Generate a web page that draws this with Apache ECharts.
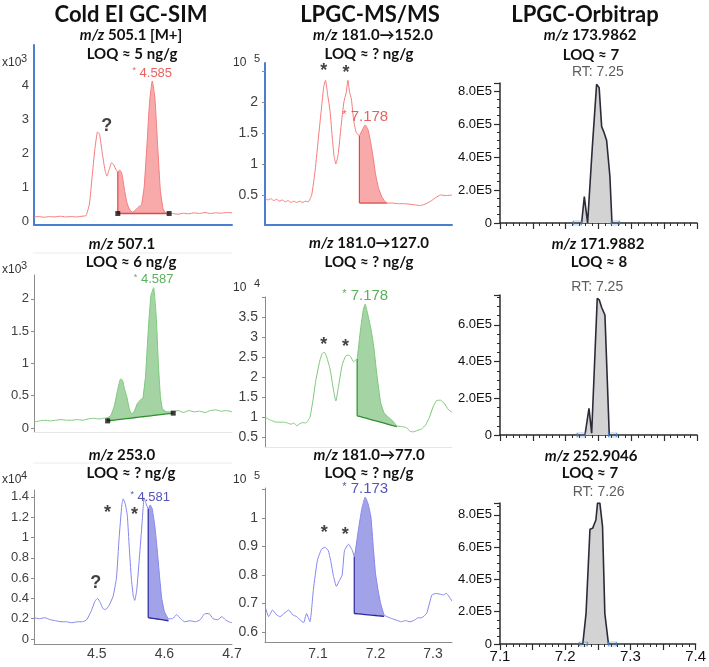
<!DOCTYPE html>
<html><head><meta charset="utf-8">
<script src="https://cdn.jsdelivr.net/npm/echarts@6/dist/echarts.min.js"></script>
<style>html,body{margin:0;padding:0;background:#fff}#c{width:709px;height:667px}</style>
</head><body><div id="c"></div>
<script>
// ================= DATA =================
// Cold EI GC-SIM, m/z 505.1 (x10^3)
const gcSim505Time = [4.407,4.415,4.422,4.430,4.438,4.446,4.454,4.462,4.470,4.478,4.484,4.489,4.493,4.497,4.501,4.504,4.508,4.512,4.515,4.518,4.522,4.525,4.529,4.531,4.534,4.537,4.541,4.545,4.549,4.553,4.557,4.562,4.566,4.570,4.574,4.578,4.582,4.586,4.590,4.594,4.598,4.602,4.607,4.612,4.620,4.628,4.636,4.644,4.652,4.660,4.668,4.676,4.684,4.692,4.700];
const gcSim505Int  = [0.12,0.13,0.11,0.13,0.12,0.14,0.12,0.13,0.12,0.14,0.16,0.5,1.3,2.1,2.62,2.55,2.0,1.5,1.32,1.5,1.72,1.65,1.48,1.45,1.5,1.4,0.9,0.5,0.32,0.26,0.32,0.42,0.48,1.0,2.2,3.5,4.12,3.6,2.2,0.9,0.35,0.24,0.22,0.22,0.2,0.23,0.21,0.24,0.22,0.25,0.22,0.24,0.23,0.25,0.24];
const gcSim505Fill = [4.531, 4.607, 0.22, 0.22];       // start, end, base at start, base at end
const gcSim505Peak = [4.582, 4.12, '4.585'];
const gcSim505Notes = [[4.5147, 2.88, '?']];

// Cold EI GC-SIM, m/z 507.1 (x10^3)
const gcSim507Time = [4.407,4.415,4.423,4.431,4.439,4.447,4.455,4.463,4.471,4.479,4.487,4.495,4.503,4.510,4.516,4.521,4.526,4.531,4.535,4.538,4.541,4.544,4.548,4.551,4.555,4.560,4.565,4.568,4.572,4.576,4.580,4.584,4.588,4.591,4.594,4.597,4.603,4.608,4.613,4.620,4.628,4.636,4.644,4.652,4.660,4.668,4.676,4.684,4.692,4.700];
const gcSim507Int  = [0.09,0.11,0.12,0.11,0.12,0.13,0.12,0.12,0.13,0.12,0.14,0.15,0.14,0.15,0.16,0.2,0.35,0.6,0.76,0.74,0.6,0.5,0.3,0.22,0.25,0.38,0.44,0.46,0.8,1.5,2.05,2.17,1.7,1.0,0.5,0.3,0.25,0.25,0.25,0.27,0.24,0.27,0.25,0.26,0.24,0.27,0.28,0.26,0.27,0.25];
const gcSim507Fill = [4.516, 4.613, 0.11, 0.23];
const gcSim507Peak = [4.584, 2.17, '4.587'];
const gcSim507Notes = [];

// Cold EI GC-SIM, m/z 253.0 (x10^4)
const gcSim253Time = [4.407,4.415,4.423,4.431,4.439,4.447,4.455,4.463,4.471,4.479,4.485,4.492,4.497,4.501,4.505,4.509,4.513,4.518,4.524,4.529,4.533,4.537,4.539,4.542,4.545,4.548,4.551,4.554,4.556,4.559,4.563,4.567,4.570,4.573,4.576,4.579,4.582,4.586,4.589,4.593,4.596,4.600,4.606,4.612,4.618,4.624,4.630,4.638,4.646,4.653,4.660,4.666,4.672,4.679,4.685,4.690,4.695,4.700];
const gcSim253Int  = [0.21,0.2,0.21,0.19,0.18,0.17,0.17,0.16,0.17,0.17,0.19,0.28,0.37,0.40,0.36,0.30,0.29,0.33,0.42,0.6,1.0,1.32,1.38,1.33,1.22,0.9,0.6,0.42,0.38,0.48,0.8,1.15,1.39,1.33,1.28,1.32,1.28,1.1,0.9,0.6,0.4,0.27,0.2,0.2,0.24,0.2,0.17,0.18,0.17,0.19,0.25,0.25,0.2,0.19,0.22,0.19,0.17,0.16];
const gcSim253Fill = [4.576, 4.606, 0.21, 0.18];
const gcSim253Peak = [4.579, 1.32, '4.581'];
const gcSim253Notes = [[4.4985, 0.58, '?'], [4.5157, 1.27, '*'], [4.5559, 1.25, '*']];
const gcSimXTicks = [4.5, 4.6, 4.7];

// LPGC-MS/MS 181.0->152.0 (x10^5)
const msms152Time = [7.008,7.013,7.018,7.023,7.028,7.033,7.038,7.043,7.048,7.053,7.058,7.063,7.068,7.073,7.078,7.083,7.089,7.095,7.101,7.106,7.110,7.113,7.117,7.121,7.125,7.128,7.131,7.135,7.140,7.145,7.149,7.152,7.155,7.158,7.162,7.166,7.170,7.172,7.177,7.182,7.187,7.191,7.196,7.200,7.205,7.211,7.216,7.220,7.230,7.240,7.250,7.260,7.270,7.278,7.288,7.296,7.305,7.313,7.323,7.333];
const msms152Int  = [0.45,0.42,0.44,0.41,0.43,0.40,0.42,0.39,0.41,0.38,0.40,0.38,0.40,0.38,0.40,0.39,0.5,0.9,1.45,1.9,2.25,2.35,2.1,1.85,1.4,1.12,1.0,1.15,1.6,2.0,2.15,2.35,2.15,2.05,1.7,1.52,1.47,1.46,1.55,1.63,1.55,1.38,1.1,0.84,0.62,0.47,0.40,0.37,0.37,0.36,0.36,0.35,0.34,0.33,0.36,0.40,0.46,0.5,0.49,0.5];
const msms152Fill = [7.172, 7.220, 0.37, 0.37];
const msms152Peak = [7.182, 1.63, '7.178'];
const msms152Notes = [[7.110, 2.55, '*'], [7.1487, 2.52, '*']];

// LPGC-MS/MS 181.0->127.0 (x10^4)
const msms127Time = [7.008,7.013,7.018,7.025,7.032,7.040,7.047,7.053,7.058,7.063,7.068,7.073,7.079,7.086,7.091,7.096,7.103,7.107,7.111,7.115,7.121,7.126,7.131,7.136,7.142,7.148,7.153,7.157,7.162,7.165,7.168,7.174,7.179,7.182,7.186,7.192,7.197,7.202,7.209,7.215,7.222,7.230,7.237,7.245,7.250,7.255,7.260,7.266,7.272,7.280,7.287,7.294,7.300,7.306,7.313,7.320,7.327,7.333];
const msms127Int  = [1.0,0.95,0.92,0.88,0.87,0.87,0.85,0.82,0.85,0.78,0.83,0.86,0.85,1.0,1.4,1.9,2.4,2.58,2.62,2.5,2.2,1.75,1.4,1.8,2.3,2.52,2.55,2.5,2.38,2.42,2.45,3.2,3.7,3.82,3.6,3.2,2.75,2.1,1.35,1.1,1.0,0.9,0.78,0.76,0.75,0.72,0.64,0.63,0.66,0.7,0.8,1.0,1.25,1.41,1.42,1.33,1.18,1.12];
const msms127Fill = [7.168, 7.237, 1.03, 0.76];
const msms127Peak = [7.182, 3.82, '7.178'];
const msms127Notes = [[7.110, 2.88, '*'], [7.148, 2.83, '*']];

// LPGC-MS/MS 181.0->77.0 (x10^5)
const msms77Time = [7.009,7.014,7.021,7.028,7.034,7.041,7.049,7.056,7.063,7.070,7.075,7.080,7.086,7.092,7.099,7.106,7.112,7.118,7.122,7.127,7.132,7.137,7.142,7.146,7.153,7.160,7.163,7.170,7.176,7.182,7.187,7.192,7.196,7.200,7.205,7.209,7.215,7.222,7.230,7.238,7.245,7.252,7.260,7.268,7.274,7.280,7.289,7.298,7.305,7.312,7.318,7.323,7.333];
const msms77Int  = [0.683,0.654,0.677,0.66,0.654,0.665,0.677,0.66,0.654,0.64,0.633,0.665,0.636,0.75,0.852,0.89,0.897,0.885,0.85,0.795,0.76,0.78,0.80,0.885,0.908,0.885,0.864,0.956,1.03,1.073,1.05,1.003,0.9,0.805,0.74,0.7,0.66,0.652,0.646,0.64,0.636,0.64,0.636,0.642,0.65,0.65,0.666,0.73,0.735,0.733,0.73,0.736,0.708];
const msms77Fill = [7.163, 7.215, 0.665, 0.655];
const msms77Peak = [7.182, 1.073, '7.173'];
const msms77Notes = [[7.111, 0.958, '*'], [7.1475, 0.952, '*']];
const msmsXTicks = [7.1, 7.2, 7.3];

// LPGC-Orbitrap (units of 1E5)
const orbi174Time = [7.2243,7.2284,7.2334,7.2360,7.2406,7.2471,7.2490,7.2510,7.2548,7.2583,7.2624,7.2674,7.2705];
const orbi174Int  = [0,1.6,0,0,4.6,8.4,8.45,8.2,5.84,5.5,5.0,2.8,0];
const orbi174Marks = [7.2177, 7.2756];
const orbi174Peak = [7.2490, 8.45, 'RT: 7.25'];

const orbi172Time = [7.2294,7.2355,7.2396,7.2410,7.2481,7.2512,7.2547,7.2598,7.2608,7.2664];
const orbi172Int  = [0,1.45,0.1,0,7.45,7.36,6.96,6.54,6.45,0];
const orbi172Marks = [7.2238, 7.2715];
const orbi172Peak = [7.2481, 7.45, 'RT: 7.25'];

const orbi253Time = [7.2270,7.2320,7.2380,7.2420,7.2471,7.2496,7.2532,7.2573,7.2608,7.2664];
const orbi253Int  = [0,1.9,7.1,7.16,7.68,8.72,8.72,7.27,1.9,0];
const orbi253Marks = [7.2279, 7.2725];
const orbi253Peak = [7.2514, 8.72, 'RT: 7.26'];

// ================= STYLE / LAYOUT =================
const FONT = '"Liberation Sans", Arial, sans-serif';
const TFONT = 'Lato, "Open Sans", sans-serif';
const RED = {line:'#f47b7b', fill:'rgba(242,100,100,0.55)', edge:'#e04848', label:'#e53935'};
const GREEN = {line:'#7cc87c', fill:'rgba(90,175,90,0.55)', edge:'#2f8f2f', label:'#2f9e2f'};
const BLUE = {line:'#8585ee', fill:'rgba(85,85,215,0.55)', edge:'#2a2aa0', label:'#2a2aa8'};

const blueLine = {show:true, onZero:false, lineStyle:{color:'#4a7fd0', width:2}};
const grayLine = {show:true, onZero:false, lineStyle:{color:'#8c8c8c', width:1}};
const faintLine = {show:true, onZero:false, lineStyle:{color:'#e6e6e6', width:1}};
const fmt = v => String(parseFloat(v.toFixed(2)));

function yAx(line, labels, ticks, fontSize, margin) {
  return {axisLine: line, splitLine:{show:false},
    axisTick: ticks ? {show:true, customValues: ticks, length:3, lineStyle:{color:'#8c8c8c'}} : {show:false},
    axisLabel: {customValues: labels, formatter: fmt, fontSize, color:'#404040', fontFamily: FONT, margin}};
}
function xAx(line, labels, margin) {
  return {axisLine: line, splitLine:{show:false}, axisTick:{show:false},
    axisLabel: labels ? {customValues: labels, formatter: fmt, fontSize:14, color:'#404040', fontFamily: FONT, margin} : {show:false}};
}

const trace = [
  {grid:{left:34,top:45,width:198,height:180}, x:[4.407,4.70], y:[-0.118,5.18], t:gcSim505Time, v:gcSim505Int, fill:gcSim505Fill, peak:gcSim505Peak, notes:gcSim505Notes, c:RED, squares:true, pfs:13,
   yA:yAx(blueLine,[0,1,2,3,4],null,13,5), xA:xAx(blueLine,null)},
  {grid:{left:34,top:275,width:198,height:157}, x:[4.407,4.70], y:[-0.062,2.368], t:gcSim507Time, v:gcSim507Int, fill:gcSim507Fill, peak:gcSim507Peak, notes:gcSim507Notes, c:GREEN, squares:true, pfs:13,
   yA:yAx(grayLine,[0,0.5,1,1.5,2],[0,0.5,1,1.5,2],13,5), xA:xAx(faintLine,null)},
  {grid:{left:34,top:490,width:198,height:154}, x:[4.407,4.70], y:[-0.049,1.467], t:gcSim253Time, v:gcSim253Int, fill:gcSim253Fill, peak:gcSim253Peak, notes:gcSim253Notes, c:BLUE, squares:false, pfs:13,
   yA:yAx(grayLine,[0,0.2,0.4,0.6,0.8,1,1.2,1.4],[0,0.2,0.4,0.6,0.8,1,1.2,1.4],13,5), xA:xAx(grayLine,gcSimXTicks,3)},
  {grid:{left:265,top:63,width:187,height:162}, x:[7.0078,7.333], y:[0.016,2.629], t:msms152Time, v:msms152Int, fill:msms152Fill, peak:msms152Peak, notes:msms152Notes, c:RED, squares:false, pfs:15,
   yA:yAx(blueLine,[0.5,1,1.5,2],[0.5,1,1.5,2,2.5],14,7), xA:xAx(blueLine,null)},
  {grid:{left:265,top:297,width:187,height:150}, x:[7.0078,7.333], y:[0.25,4.0], t:msms127Time, v:msms127Int, fill:msms127Fill, peak:msms127Peak, notes:msms127Notes, c:GREEN, squares:false, pfs:15,
   yA:yAx(grayLine,[0.5,1,1.5,2,2.5,3,3.5],[0.5,1,1.5,2,2.5,3,3.5,4],14,7), xA:xAx(faintLine,null)},
  {grid:{left:265,top:488,width:187,height:154}, x:[7.0078,7.333], y:[0.565,1.105], t:msms77Time, v:msms77Int, fill:msms77Fill, peak:msms77Peak, notes:msms77Notes, c:BLUE, squares:false, pfs:15,
   yA:yAx(grayLine,[0.6,0.7,0.8,0.9,1],[0.6,0.7,0.8,0.9,1,1.1],14,7), xA:xAx(grayLine,msmsXTicks,5)}
];

const orbi = [
  {grid:{left:500,top:83,width:197,height:140}, ymax:8.48, t:orbi174Time, v:orbi174Int, marks:orbi174Marks, peak:orbi174Peak, xlabels:false},
  {grid:{left:500,top:295,width:197,height:140}, ymax:7.63, t:orbi172Time, v:orbi172Int, marks:orbi172Marks, peak:orbi172Peak, xlabels:false},
  {grid:{left:500,top:503,width:197,height:141}, ymax:8.73, t:orbi253Time, v:orbi253Int, marks:orbi253Marks, peak:orbi253Peak, xlabels:true}
];

function interp(ts, vs, x) {
  for (let i = 0; i < ts.length - 1; i++) {
    if (x >= ts[i] && x <= ts[i+1]) { const f = (x - ts[i]) / (ts[i+1] - ts[i]); return vs[i] + f * (vs[i+1] - vs[i]); }
  }
  return vs[vs.length - 1];
}
const zip = (a, b) => a.map((x, i) => [x, b[i]]);

const option = {animation:false, grid:[], xAxis:[], yAxis:[], series:[], graphic:[]};

trace.forEach((p, i) => {
  option.grid.push(p.grid);
  option.xAxis.push(Object.assign({type:'value', gridIndex:i, min:p.x[0], max:p.x[1]}, p.xA));
  option.yAxis.push(Object.assign({type:'value', gridIndex:i, min:p.y[0], max:p.y[1]}, p.yA));
  const [t0, t1, b0, b1] = p.fill;
  const xs = [t0].concat(p.t.filter(x => x > t0 && x < t1), [t1]);
  const base = x => b0 + (b1 - b0) * (x - t0) / (t1 - t0);
  // integrated peak area between the trace and the integration baseline
  option.series.push({type:'custom', xAxisIndex:i, yAxisIndex:i, z:2, silent:true, clip:true,
    data:[[t0, b0]],
    renderItem: (params, api) => {
      const top = xs.map(x => api.coord([x, interp(p.t, p.v, x)]));
      const bot = xs.slice().reverse().map(x => api.coord([x, base(x)]));
      const e0 = api.coord([t0, b0]), e1 = api.coord([t0, interp(p.t, p.v, t0)]);
      return {type:'group', children:[
        {type:'polygon', shape:{points: top.concat(bot)}, style:{fill:p.c.fill, stroke:null}},
        {type:'polyline', shape:{points: bot}, style:{stroke:p.c.edge, lineWidth:1.3, fill:null}},
        {type:'line', shape:{x1:e0[0], y1:e0[1], x2:e1[0], y2:e1[1]}, style:{stroke:p.c.edge, lineWidth:1.2}}
      ]};
    }});
  // chromatogram trace
  option.series.push({type:'line', xAxisIndex:i, yAxisIndex:i, symbol:'none', smooth:0.15, z:3,
    data: zip(p.t, p.v), lineStyle:{color:p.c.line, width:1}});
  if (p.squares) {
    option.series.push({type:'scatter', xAxisIndex:i, yAxisIndex:i, symbol:'rect', symbolSize:5, z:5,
      data:[[t0, b0], [t1, b1]], itemStyle:{color:'#111'}});
  }
  // peak RT label
  option.series.push({type:'scatter', xAxisIndex:i, yAxisIndex:i, symbolSize:1, z:6, silent:true,
    itemStyle:{color:'rgba(0,0,0,0)'}, data:[p.peak],
    label:{show:true, position:'top', distance: p.pfs > 13 ? 0 : 1, formatter: d => '{s|*} ' + d.data[2],
      fontFamily:FONT, fontSize:p.pfs, color:p.c.label,
      rich:{s:{fontSize:p.pfs - 4, color:p.c.label, fontFamily:FONT, padding:[0,0,4,0]}}}});
  // '?' and '*' annotations
  if (p.notes.length) {
    option.series.push({type:'scatter', xAxisIndex:i, yAxisIndex:i, symbolSize:1, z:6, silent:true,
      itemStyle:{color:'rgba(0,0,0,0)'}, data:p.notes,
      label:{show:true, position:'inside', formatter: d => d.data[2], fontFamily:FONT, fontWeight:'bold',
        fontSize:18, color:'#111', offset:[0,3]}});
  }
});

orbi.forEach((p, k) => {
  const i = trace.length + k;
  option.grid.push(p.grid);
  option.xAxis.push({type:'value', gridIndex:i, min:7.1, max:7.4, interval:0.05,
    axisLine:{show:true, onZero:false, lineStyle:{color:'#2b2b2b', width:1.5}},
    axisTick:{show:true, length:6, lineStyle:{color:'#2b2b2b', width:1.2}},
    minorTick:{show:true, splitNumber:5, length:3, lineStyle:{color:'#2b2b2b', width:1}},
    splitLine:{show:false}, minorSplitLine:{show:false},
    axisLabel: p.xlabels ? {show:true, fontSize:15, color:'#111', fontFamily:FONT, margin:5,
      formatter: v => Math.abs(v * 10 - Math.round(v * 10)) < 1e-6 ? v.toFixed(1) : ''} : {show:false}});
  option.yAxis.push({type:'value', gridIndex:i, min:0, max:p.ymax, interval:2,
    axisLine:{show:true, onZero:false, lineStyle:{color:'#2b2b2b', width:1.5}},
    axisTick:{show:true, length:6, lineStyle:{color:'#2b2b2b', width:1.2}},
    minorTick:{show:true, splitNumber:4, length:3, lineStyle:{color:'#2b2b2b', width:1}},
    splitLine:{show:false}, minorSplitLine:{show:false},
    axisLabel:{fontSize:13, color:'#111', fontFamily:FONT, margin:8, showMaxLabel:false,
      formatter: v => v === 0 ? '0' : v.toFixed(1) + 'E5'}});
  option.series.push({type:'line', xAxisIndex:i, yAxisIndex:i, symbol:'none', smooth:false, z:3,
    data: zip(p.t, p.v), lineStyle:{color:'#2b2b38', width:1.6}, areaStyle:{color:'#d3d3d3', opacity:1}});
  option.series.push({type:'scatter', xAxisIndex:i, yAxisIndex:i, symbol:'rect', symbolSize:[8,4], z:4,
    data: p.marks.map(x => [x, 0]), itemStyle:{color:'rgba(255,255,255,0)', borderColor:'#3f83d6', borderWidth:1}});
  option.series.push({type:'scatter', xAxisIndex:i, yAxisIndex:i, symbolSize:1, z:6, silent:true,
    itemStyle:{color:'rgba(0,0,0,0)'}, data:[p.peak],
    label:{show:true, position:'top', distance:4, formatter: d => d.data[2], fontFamily:FONT, fontSize:14, color:'#333'}});
});

// ================= TEXT =================
function txt(x, y, text, size, weight, align, color, rich) {
  return {type:'text', x, y, silent:true, style:{text, fontSize:size, fontWeight:weight, fontFamily: weight === 'bold' ? TFONT : FONT,
    fill: color || '#111', align: align || 'center', verticalAlign:'middle', rich: rich}};
}
const itRich = {i:{fontStyle:'italic', fontWeight:'bold', fontSize:15, fontFamily:TFONT, fill:'#111', color:'#111'}};
const texts = [
  [131, 15, 'Cold EI GC-SIM', 22], [370, 15, 'LPGC-MS/MS', 22], [585, 15, 'LPGC-Orbitrap', 22],
  [131, 35, '{i|m/z} 505.1 [M+]', 15], [132, 54, 'LOQ ≈ 5 ng/g', 15],
  [122, 244, '{i|m/z} 507.1', 15], [131, 262, 'LOQ ≈ 6 ng/g', 15],
  [122, 455, '{i|m/z} 253.0', 15], [131, 473, 'LOQ ≈ ? ng/g', 15],
  [373, 35, '{i|m/z} 181.0→152.0', 15], [369, 54, 'LOQ ≈ ? ng/g', 15],
  [369, 243, '{i|m/z} 181.0→127.0', 15], [369, 262, 'LOQ ≈ ? ng/g', 15],
  [369, 455, '{i|m/z} 181.0→77.0', 15], [369, 473, 'LOQ ≈ ? ng/g', 15],
  [590, 35, '{i|m/z} 173.9862', 15], [591, 55, 'LOQ ≈ 7', 15],
  [598, 244, '{i|m/z} 171.9882', 15], [599, 262, 'LOQ ≈ 8', 15],
  [591, 456, '{i|m/z} 252.9046', 15], [590, 473, 'LOQ ≈ 7', 15]
];
texts.forEach(([x, y, s, sz]) => option.graphic.push(txt(x, y, s, sz, 'bold', 'center', '#111', itRich)));

// exponent labels
const expo = [[2, 63, 'x10', 21, 59, '3'], [2, 270, 'x10', 21, 266, '3'], [2, 480, 'x10', 21, 476, '4'],
              [233, 63, '10', 254, 59, '5'], [233, 288, '10', 254, 284, '4'], [233, 480, '10', 254, 476, '5']];
expo.forEach(([x, y, a, x2, y2, b]) => {
  option.graphic.push(txt(x, y, a, 12, 'normal', 'left', '#333'));
  option.graphic.push(txt(x2, y2, b, 11, 'normal', 'left', '#333'));
});

// faint panel frame lines
[[33, 232, 253], [33, 232, 463]].forEach(([x1, x2, y]) => {
  option.graphic.push({type:'line', silent:true, shape:{x1, y1:y, x2, y2:y}, style:{stroke:'#ececec', lineWidth:1}});
});

const chart = echarts.init(document.getElementById('c'), null, {renderer:'canvas'});
chart.setOption(option);
</script></body></html>
